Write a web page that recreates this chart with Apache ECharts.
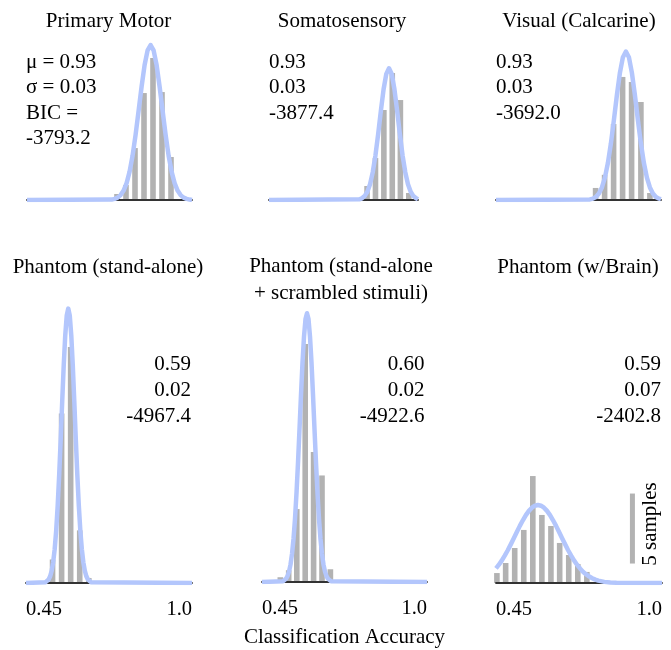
<!DOCTYPE html>
<html>
<head>
<meta charset="utf-8">
<title>Classification accuracy histograms</title>
<script src="https://cdn.jsdelivr.net/npm/echarts@6/dist/echarts.min.js"></script>
<style>
html, body { margin: 0; padding: 0; background: #fff; }
#main { width: 671px; height: 650px; }
</style>
</head>
<body>
<div id="main"></div>
<script>
// panel titles and fitted gaussian stats
var titles = ['Primary Motor', 'Somatosensory', 'Visual (Calcarine)',
  'Phantom (stand-alone)', 'Phantom (stand-alone\n+ scrambled stimuli)', 'Phantom (w/Brain)'];
var muText = ['0.93', '0.93', '0.93', '0.59', '0.60', '0.59'];
var sigmaText = ['0.03', '0.03', '0.03', '0.02', '0.02', '0.07'];
var bicText = ['-3793.2', '-3877.4', '-3692.0', '-4967.4', '-4922.6', '-2402.8'];
var tickValues = [0.45, 1.0];
var tickLabels = ['0.45', '1.0'];

// histograms: bin centres (accuracy) and heights (samples)
var motorBins = [0.75, 0.78, 0.81, 0.84, 0.87, 0.90, 0.93];
var motorCounts = [0.43, 1.07, 3.71, 7.64, 10.14, 7.71, 3.07];
var somatoBins = [0.812, 0.843, 0.874, 0.905, 0.935, 0.966];
var somatoCounts = [1.0, 3.0, 6.43, 9.07, 7.14, 0.5];
var visualBins = [0.782, 0.812, 0.842, 0.872, 0.902, 0.933, 0.963];
var visualCounts = [0.86, 1.8, 5.43, 8.79, 8.43, 7.0, 0.5];
var phantomBins = [0.538, 0.568, 0.598, 0.628, 0.658];
var phantomCounts = [1.68, 12.1, 16.86, 3.76, 0.36];
var scrambledBins = [0.511, 0.539, 0.566, 0.594, 0.622, 0.650, 0.678];
var scrambledCounts = [0.34, 0.84, 5.21, 17.0, 9.29, 7.61, 0.91];
var brainBins = [0.453, 0.482, 0.512, 0.542, 0.572, 0.602, 0.632, 0.661, 0.691, 0.721, 0.751];
var brainCounts = [0.71, 1.43, 2.5, 3.79, 7.64, 4.86, 4.07, 2.86, 2.0, 1.36, 0.79];

// fitted curves (accuracy, samples)
var motorCurveX = [0.45, 0.732, 0.742, 0.752, 0.762, 0.772, 0.782, 0.792, 0.802, 0.812, 0.822, 0.832, 0.842, 0.852,
  0.862, 0.872, 0.882, 0.892, 0.902, 0.912, 0.922, 0.932, 0.942, 0.952, 0.962, 0.972, 0.982, 0.992, 1.0];
var motorCurveY = [0, 0.03, 0.08, 0.17, 0.35, 0.67, 1.21, 2.03, 3.18, 4.66, 6.37, 8.10, 9.64, 10.69,
  11.07, 10.69, 9.64, 8.10, 6.37, 4.66, 3.18, 2.03, 1.21, 0.67, 0.35, 0.17, 0.08, 0.03, 0];
var somatoCurveX = [0.45, 0.783, 0.793, 0.803, 0.813, 0.823, 0.833, 0.843, 0.853, 0.863, 0.873, 0.883, 0.893,
  0.903, 0.913, 0.923, 0.933, 0.943, 0.953, 0.963, 0.973, 0.983, 0.993, 1.0];
var somatoCurveY = [0, 0.05, 0.12, 0.28, 0.59, 1.13, 1.99, 3.19, 4.71, 6.38, 7.91, 9.01, 9.41,
  9.01, 7.91, 6.38, 4.71, 3.19, 1.99, 1.13, 0.59, 0.28, 0.12, 0.05];
var visualCurveX = [0.45, 0.763, 0.773, 0.783, 0.793, 0.803, 0.813, 0.823, 0.833, 0.843, 0.853, 0.863, 0.873,
  0.883, 0.893, 0.903, 0.913, 0.923, 0.933, 0.943, 0.953, 0.963, 0.973, 0.983, 0.993, 1.0];
var visualCurveY = [0, 0.04, 0.10, 0.22, 0.47, 0.90, 1.60, 2.64, 4.04, 5.71, 7.49, 9.08, 10.20,
  10.6, 10.20, 9.08, 7.49, 5.71, 4.04, 2.64, 1.60, 0.90, 0.47, 0.22, 0.10, 0.06];
var phantomCurveX = [0.45, 0.515, 0.52, 0.525, 0.53, 0.535, 0.54, 0.545, 0.55, 0.555, 0.56, 0.565, 0.57, 0.575,
  0.58, 0.585, 0.59, 0.595, 0.60, 0.605, 0.61, 0.615, 0.62, 0.625, 0.63, 0.635, 0.64, 0.645, 0.65, 0.655,
  0.66, 0.665, 1.0];
var phantomCurveY = [0, 0.06, 0.12, 0.25, 0.48, 0.86, 1.48, 2.41, 3.74, 5.53, 7.74, 10.27, 12.98, 15.54,
  17.68, 19.11, 19.6, 19.11, 17.68, 15.54, 12.98, 10.27, 7.74, 5.53, 3.74, 2.41, 1.48, 0.86, 0.48, 0.25,
  0.12, 0.06, 0];
var scrambledCurveX = [0.45, 0.52, 0.525, 0.53, 0.535, 0.54, 0.545, 0.55, 0.555, 0.56, 0.565, 0.57, 0.575, 0.58,
  0.585, 0.59, 0.595, 0.60, 0.605, 0.61, 0.615, 0.62, 0.625, 0.63, 0.635, 0.64, 0.645, 0.65, 0.655, 0.66,
  0.665, 0.67, 0.675, 0.68, 1.0];
var scrambledCurveY = [0, 0.06, 0.12, 0.23, 0.42, 0.74, 1.24, 2.0, 3.07, 4.51, 6.34, 8.51, 10.91, 13.36,
  15.67, 17.53, 18.78, 19.2, 18.78, 17.53, 15.67, 13.36, 10.91, 8.51, 6.34, 4.51, 3.07, 2.0, 1.24, 0.74,
  0.42, 0.23, 0.12, 0.06, 0];
var brainCurveX = [0.45, 0.459, 0.469, 0.479, 0.489, 0.499, 0.509, 0.519, 0.529, 0.539, 0.549, 0.559, 0.569,
  0.579, 0.589, 0.599, 0.609, 0.619, 0.629, 0.639, 0.649, 0.659, 0.669, 0.679, 0.689, 0.699, 0.709, 0.719,
  0.729, 0.739, 0.749, 0.759, 0.769, 0.779, 0.789, 0.809, 0.829, 0.849, 1.0];
var brainCurveY = [1.05, 1.29, 1.60, 1.96, 2.34, 2.76, 3.20, 3.64, 4.08, 4.48, 4.85, 5.15, 5.38,
  5.52, 5.57, 5.52, 5.38, 5.15, 4.85, 4.48, 4.08, 3.64, 3.20, 2.76, 2.34, 1.96, 1.60, 1.29,
  1.02, 0.79, 0.61, 0.46, 0.34, 0.24, 0.17, 0.08, 0.04, 0.02, 0];

// scale bar: x, from, to (samples)
var scaleBar = [0.902, 1.39, 6.39];

var bins = [motorBins, somatoBins, visualBins, phantomBins, scrambledBins, brainBins];
var counts = [motorCounts, somatoCounts, visualCounts, phantomCounts, scrambledCounts, brainCounts];
var curveX = [motorCurveX, somatoCurveX, visualCurveX, phantomCurveX, scrambledCurveX, brainCurveX];
var curveY = [motorCurveY, somatoCurveY, visualCurveY, phantomCurveY, scrambledCurveY, brainCurveY];

var PX_PER_SAMPLE = 14;
var FAMILY = '"Liberation Serif", "DejaVu Serif", serif';
var FONT = '21px ' + FAMILY;
var GRAY = '#b2b2b2';
var BLUE = '#b3c6fc';

var grids = [
  {left: 27, top: 30, width: 165, height: 170},
  {left: 269, top: 30, width: 149, height: 170},
  {left: 496, top: 30, width: 165, height: 170},
  {left: 26, top: 290, width: 166, height: 293},
  {left: 262, top: 290, width: 165, height: 292},
  {left: 496, top: 290, width: 166, height: 293}
];

function zip(a, b) {
  return a.map(function (v, i) { return [v, b[i]]; });
}

var xAxes = [], yAxes = [], series = [], graphics = [];

grids.forEach(function (g, i) {
  var bottomRow = i >= 3;
  xAxes.push({
    type: 'value', gridIndex: i, min: 0.45, max: 1.0, z: 2,
    axisLine: {show: true, lineStyle: {color: '#333', width: 1.8}},
    axisTick: {show: false},
    splitLine: {show: false},
    axisLabel: {
      show: bottomRow, customValues: tickValues, margin: 16,
      alignMinLabel: 'left', alignMaxLabel: 'right',
      fontFamily: FAMILY, fontSize: 20.5, color: '#000',
      formatter: function (v) { return tickLabels[tickValues.indexOf(v)]; }
    },
    name: i === 4 ? 'Classification Accuracy' : '',
    nameLocation: 'middle', nameGap: 45,
    nameTextStyle: {fontFamily: FAMILY, fontSize: 21, color: '#000'}
  });
  yAxes.push({
    type: 'value', gridIndex: i, min: 0, max: g.height / PX_PER_SAMPLE, show: false
  });
  series.push({
    type: 'bar', xAxisIndex: i, yAxisIndex: i, z: 1,
    data: zip(bins[i], counts[i]), barWidth: 5.6,
    itemStyle: {color: GRAY}, silent: true
  });
  series.push({
    type: 'line', xAxisIndex: i, yAxisIndex: i, z: 3,
    data: zip(curveX[i], curveY[i]), symbol: 'none', smooth: false,
    lineStyle: {color: BLUE, width: 4.5, join: 'round'}, silent: true
  });
});

series.push({
  type: 'custom', xAxisIndex: 5, yAxisIndex: 5, z: 1, clip: false,
  data: [scaleBar],
  renderItem: function (params, api) {
    var p0 = api.coord([api.value(0), api.value(1)]);
    var p1 = api.coord([api.value(0), api.value(2)]);
    return {type: 'rect', shape: {x: p0[0] - 2.5, y: p1[1], width: 5, height: p0[1] - p1[1]},
      style: {fill: GRAY}};
  }
});

function addText(str, x, y, align) {
  graphics.push({type: 'text', x: x, y: y,
    style: {text: str, font: FONT, fill: '#000', textAlign: align, textVerticalAlign: 'middle'}});
}

// titles
var titlePos = [[108.5, 21], [342, 21], [579, 21], [108, 267], [341, 266], [578, 267]];
titles.forEach(function (t, i) {
  t.split('\n').forEach(function (line, j) {
    addText(line, titlePos[i][0], titlePos[i][1] + j * 27, 'center');
  });
});

// stats
var statsTop = [[26, 62], [269, 62], [496, 62]];
statsTop.forEach(function (p, i) {
  var lines = i === 0 ? ['\u03bc = ' + muText[0], '\u03c3 = ' + sigmaText[0], 'BIC =', bicText[0]]
    : [muText[i], sigmaText[i], bicText[i]];
  lines.forEach(function (l, j) { addText(l, p[0], p[1] + j * 25.5, 'left'); });
});
var statsBottom = [[191, 364], [424.5, 364], [661, 364]];
statsBottom.forEach(function (p, k) {
  var i = k + 3;
  [muText[i], sigmaText[i], bicText[i]].forEach(function (l, j) {
    addText(l, p[0], p[1] + j * 26, 'right');
  });
});

graphics.push({type: 'text', x: 650, y: 524, rotation: Math.PI / 2,
  style: {text: '5 samples', font: FONT, fill: '#000', textAlign: 'center', textVerticalAlign: 'middle'}});

var chart = echarts.init(document.getElementById('main'));
chart.setOption({
  animation: false,
  backgroundColor: '#fff',
  grid: grids,
  xAxis: xAxes,
  yAxis: yAxes,
  series: series,
  graphic: graphics
});
</script>
</body>
</html>
